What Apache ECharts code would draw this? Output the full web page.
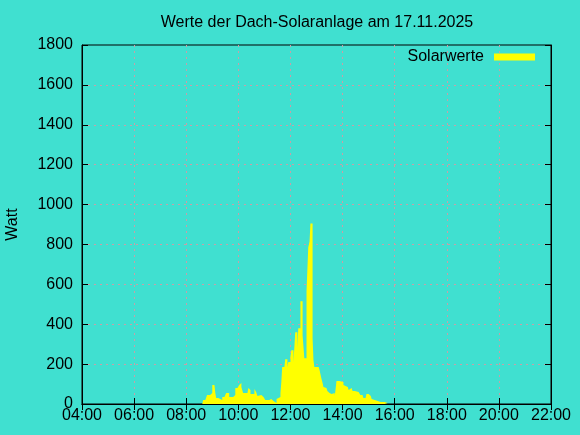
<!DOCTYPE html>
<html>
<head>
<meta charset="utf-8">
<script src="https://cdn.jsdelivr.net/npm/echarts@6/dist/echarts.min.js"></script>
<style>
html,body{margin:0;padding:0;background:#40e0d0;}
#c{width:580px;height:435px;}
</style>
</head>
<body>
<div id="c"></div>
<script>
const titleText = 'Werte der Dach-Solaranlage am 17.11.2025';
const seriesName = 'Solarwerte';
const yAxisName = 'Watt';
const xTickHours = [4, 6, 8, 10, 12, 14, 16, 18, 20, 22];
const yTicks = [0, 200, 400, 600, 800, 1000, 1200, 1400, 1600, 1800];

const times = ['08:37','08:39','08:44','08:48','08:55','09:00','09:05','09:07','09:09','09:14','09:18','09:23','09:28','09:32','09:39','09:48','09:53','09:58','10:02','10:05','10:07','10:09','10:11','10:21','10:23','10:25','10:28','10:37','10:41','10:44','10:48','10:53','10:58','11:02','11:11','11:16','11:21','11:28','11:32','11:37','11:39','11:41','11:46','11:48','11:53','11:55','12:00','12:02','12:07','12:11','12:16','12:18','12:23','12:28','12:30','12:32','12:37','12:41','12:44','12:46','12:51','12:53','12:55','13:00','13:02','13:05','13:07','13:09','13:11','13:14','13:16','13:18','13:23','13:25','13:28','13:30','13:35','13:37','13:39','13:42','13:44','13:46','13:53','13:55','14:02','14:05','14:07','14:12','14:14','14:16','14:21','14:23','14:28','14:37','14:41','14:46','14:48','14:53','14:55','15:00','15:05','15:07','15:09','15:14','15:28','15:32','15:37','15:44'];
const watts = [0,20,30,45,55,95,85,55,30,25,20,35,45,55,35,45,80,90,95,105,85,70,55,60,80,70,50,75,60,40,45,35,30,20,25,15,5,25,35,55,110,185,195,225,185,210,240,270,210,360,280,380,515,345,350,230,565,785,815,905,330,220,185,175,185,190,170,150,130,105,85,80,75,65,55,50,55,60,55,40,75,115,105,110,95,90,85,75,70,80,75,65,60,50,45,40,30,35,50,40,30,25,20,10,15,10,5,0];

function toHours(s){const p=s.split(':');return +p[0]+(+p[1])/60;}
const data = times.map((t,i)=>[toHours(t), watts[i]]);
const pad = v => (v<10?'0':'')+v+':00';

const font = "'Liberation Sans', Arial, sans-serif";
const gridLine = {show:true, showMinLine:false, showMaxLine:false, lineStyle:{color:'#c8a0a8', type:[2,4], width:1}};
const chart = echarts.init(document.getElementById('c'), null, {renderer:'canvas'});
chart.setOption({
  backgroundColor:'#40e0d0',
  animation:false,
  title:{text:titleText, left:312, textAlign:'center', top:10, textStyle:{fontFamily:font, fontSize:16, fontWeight:'normal', color:'#000'}},
  legend:{data:[{name:seriesName, icon:'rect'}], right:40, top:44, align:'right', itemWidth:41, itemHeight:7, itemGap:5,
    textStyle:{fontFamily:font, fontSize:16, color:'#000', padding:[0,5,0,0]}},
  grid:{left:82, right:29, top:45, bottom:31, show:true, borderColor:'#000', borderWidth:1, backgroundColor:'transparent',
    containLabel:false, outerBoundsMode:'none'},
  xAxis:[{type:'value', min:4, max:22, interval:2, position:'bottom',
    axisLine:{show:true, lineStyle:{color:'#000', width:1}},
    axisTick:{show:true, inside:true, length:6, lineStyle:{color:'#000'}},
    axisLabel:{formatter:pad, fontFamily:font, fontSize:16, color:'#000', margin:4},
    splitLine:gridLine},
   {type:'value', min:4, max:22, interval:2, position:'top',
    axisLine:{show:true, lineStyle:{color:'#000'}},
    axisTick:{show:true, inside:true, length:6, lineStyle:{color:'#000'}},
    axisLabel:{show:false}, splitLine:{show:false}}],
  yAxis:[{type:'value', min:0, max:1800, interval:200, position:'left',
    name:yAxisName, nameLocation:'middle', nameGap:61, nameRotate:90,
    nameTextStyle:{fontFamily:font, fontSize:16, color:'#000'},
    axisLine:{show:true, lineStyle:{color:'#000'}},
    axisTick:{show:true, inside:true, length:6, lineStyle:{color:'#000'}},
    axisLabel:{fontFamily:font, fontSize:16, color:'#000', margin:9, formatter:v=>String(v)},
    splitLine:gridLine},
   {type:'value', min:0, max:1800, interval:200, position:'right',
    axisLine:{show:true, lineStyle:{color:'#000'}},
    axisTick:{show:true, inside:true, length:6, lineStyle:{color:'#000'}},
    axisLabel:{show:false}, splitLine:{show:false}}],
  series:[{name:seriesName, type:'line', step:'end', data:data, showSymbol:false,
    xAxisIndex:0, yAxisIndex:0,
    lineStyle:{width:0, color:'#ffff00'}, itemStyle:{color:'#ffff00'},
    areaStyle:{color:'#ffff00', opacity:1}}]
});
</script>
</body>
</html>
